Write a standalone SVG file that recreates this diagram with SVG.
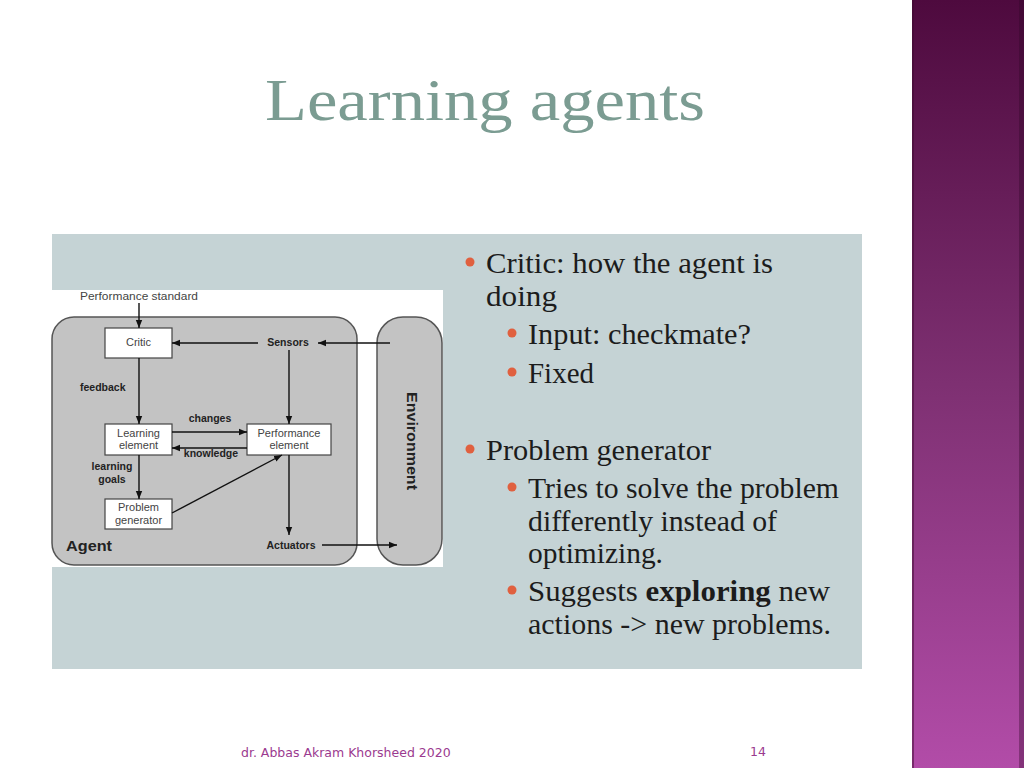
<svg xmlns="http://www.w3.org/2000/svg" width="1024" height="768" viewBox="0 0 1024 768">
<defs>
<linearGradient id="bar" x1="0" y1="0" x2="0" y2="1">
<stop offset="0" stop-color="#4e0a3e"/>
<stop offset="0.5" stop-color="#7e3072"/>
<stop offset="1" stop-color="#b24ca8"/>
</linearGradient>
<marker id="ah" viewBox="0 0 10 10" refX="10" refY="5" markerWidth="8" markerHeight="8" markerUnits="userSpaceOnUse" orient="auto">
<path d="M0,1 L10,5 L0,9 Z" fill="#111"/>
</marker>
<style>
.box{fill:#fff;stroke:#444;stroke-width:1.2}
.lbl{font-family:"Liberation Sans",Arial,sans-serif;font-size:11px;fill:#444;text-anchor:middle}
.b{font-family:"Liberation Sans",Arial,sans-serif;font-size:10.5px;font-weight:bold;fill:#222}
.big{font-size:15px}
.env{font-size:14px}
.ln{stroke:#111;stroke-width:1.4;fill:none;marker-end:url(#ah)}
.t1{font-family:"Liberation Serif","Times New Roman",serif;font-size:29px;fill:#1c1c1c}
.dot{fill:#e0603f}
.ft{font-family:"DejaVu Sans",Verdana,sans-serif;font-size:12.5px;fill:#9b3a8f}
</style>
</defs>
<rect width="1024" height="768" fill="#fff"/>
<rect x="912" y="0" width="112" height="768" fill="url(#bar)"/>
<rect x="912" y="0" width="2" height="768" fill="#3e0a30" opacity="0.5"/>
<rect x="1019" y="0" width="5" height="768" fill="#2e0626" opacity="0.35"/>
<text x="265" y="120" font-family="'Liberation Serif','Times New Roman',serif" font-size="60" fill="#7b9c92" textLength="440" lengthAdjust="spacingAndGlyphs">Learning agents</text>
<rect x="52" y="234" width="810" height="435" fill="#c5d3d5"/>
<rect x="52" y="290" width="391" height="277" fill="#fff"/>
<g id="agent">
<rect x="52" y="317" width="305" height="248" rx="22" fill="#c3c3c3" stroke="#555" stroke-width="1.5"/>
<text class="b big" x="66" y="551" textLength="46" lengthAdjust="spacingAndGlyphs">Agent</text>
</g>
<g id="environment">
<rect x="377" y="317" width="65" height="248" rx="26" fill="#c3c3c3" stroke="#555" stroke-width="1.5"/>
<text class="b env" x="0" y="0" transform="translate(407,441) rotate(90)" text-anchor="middle" textLength="98" lengthAdjust="spacingAndGlyphs">Environment</text>
</g>
<g id="perf-standard"><text class="lbl" x="139" y="300" textLength="118" lengthAdjust="spacingAndGlyphs">Performance standard</text></g>
<g id="critic"><rect class="box" x="105" y="328" width="67" height="30"/><text class="lbl" x="138.5" y="346">Critic</text></g>
<g id="sensors"><text class="b" x="288" y="346" text-anchor="middle">Sensors</text></g>
<g id="learning"><rect class="box" x="105" y="424" width="67" height="31"/><text class="lbl" x="138.5" y="437">Learning</text><text class="lbl" x="138.5" y="449">element</text></g>
<g id="performance"><rect class="box" x="247" y="424" width="84" height="31"/><text class="lbl" x="289" y="437">Performance</text><text class="lbl" x="289" y="449">element</text></g>
<g id="problem"><rect class="box" x="105" y="499" width="67" height="30"/><text class="lbl" x="138.5" y="511">Problem</text><text class="lbl" x="138.5" y="524">generator</text></g>
<g id="actuators"><text class="b" x="291" y="549" text-anchor="middle">Actuators</text></g>
<g id="connectors">
<line class="ln" x1="139" y1="303" x2="139" y2="328"/>
<line class="ln" x1="390" y1="343" x2="318" y2="343"/>
<line class="ln" x1="258" y1="343" x2="172" y2="343"/>
<line class="ln" x1="289" y1="350" x2="289" y2="424"/>
<line class="ln" x1="139" y1="358" x2="139" y2="424"/>
<line class="ln" x1="172" y1="432" x2="247" y2="432"/>
<line class="ln" x1="247" y1="448" x2="172" y2="448"/>
<line class="ln" x1="139" y1="455" x2="139" y2="499"/>
<line class="ln" x1="172" y1="513" x2="282" y2="455"/>
<line class="ln" x1="289" y1="455" x2="289" y2="535"/>
<line class="ln" x1="322" y1="545" x2="397" y2="545"/>
<text class="b" x="80" y="391">feedback</text>
<text class="b" x="210" y="422" text-anchor="middle">changes</text>
<text class="b" x="211" y="457" text-anchor="middle">knowledge</text>
<text class="b" x="112" y="470" text-anchor="middle">learning</text>
<text class="b" x="112" y="483" text-anchor="middle">goals</text>
</g>
<g id="bullets">
<circle class="dot" cx="470" cy="262" r="4.5"/>
<text class="t1" x="486" y="273" textLength="287" lengthAdjust="spacingAndGlyphs">Critic: how the agent is</text>
<text class="t1" x="486" y="306" textLength="71" lengthAdjust="spacingAndGlyphs">doing</text>
<circle class="dot" cx="512" cy="333" r="4.5"/>
<text class="t1" x="528" y="344" textLength="223" lengthAdjust="spacingAndGlyphs">Input: checkmate?</text>
<circle class="dot" cx="512" cy="372" r="4.5"/>
<text class="t1" x="528" y="383" textLength="66" lengthAdjust="spacingAndGlyphs">Fixed</text>
<circle class="dot" cx="470" cy="449" r="4.5"/>
<text class="t1" x="486" y="460" textLength="225" lengthAdjust="spacingAndGlyphs">Problem generator</text>
<circle class="dot" cx="512" cy="487" r="4.5"/>
<text class="t1" x="528" y="498" textLength="311" lengthAdjust="spacingAndGlyphs">Tries to solve the problem</text>
<text class="t1" x="528" y="531" textLength="249" lengthAdjust="spacingAndGlyphs">differently instead of</text>
<text class="t1" x="528" y="563" textLength="135" lengthAdjust="spacingAndGlyphs">optimizing.</text>
<circle class="dot" cx="512" cy="590" r="4.5"/>
<text class="t1" x="528" y="601" textLength="302" lengthAdjust="spacingAndGlyphs">Suggests <tspan font-weight="bold">exploring</tspan> new</text>
<text class="t1" x="528" y="634" textLength="303" lengthAdjust="spacingAndGlyphs">actions -&gt; new problems.</text>
</g>
<g id="footer">
<text class="ft" x="241" y="757">dr. Abbas Akram Khorsheed 2020</text>
<text class="ft" x="750" y="756">14</text>
</g>
</svg>
